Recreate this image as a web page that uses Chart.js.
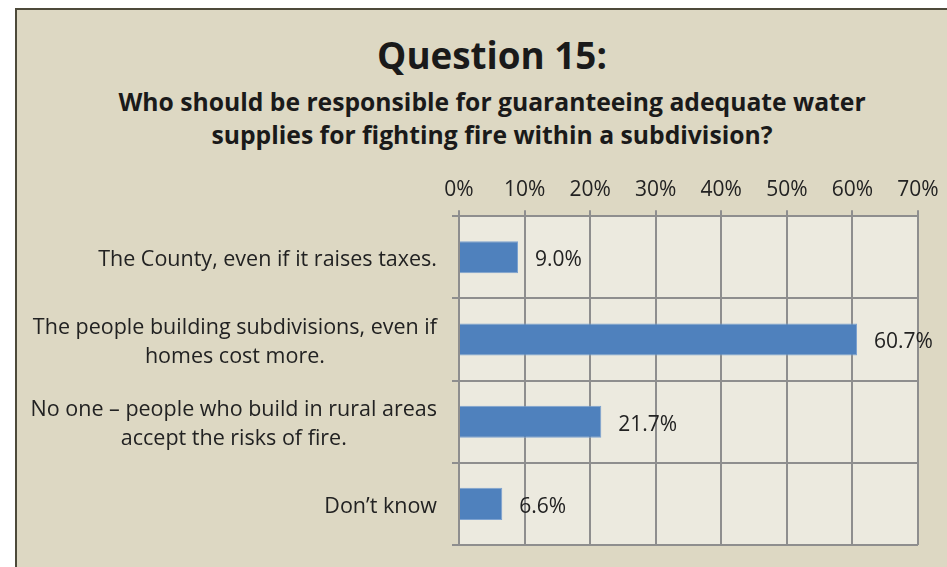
<!DOCTYPE html>
<html>
<head>
<meta charset="utf-8">
<script src="https://cdn.jsdelivr.net/npm/chart.js@4"></script>
<style>
  body { margin: 0; background: #fff; width: 947px; height: 567px; overflow: hidden; position: relative; font-family: "Open Sans", sans-serif; }
  #box { position: absolute; left: 15px; top: 8px; width: 980px; height: 600px; background: #DDD8C3; border: 2px solid #4d4a3a; }
  #titles { position: absolute; left: 15px; top: 0; width: 954px; text-align: center; color: #1a1a1a; }
  #titles h1 { margin: 0; position: absolute; top: 30px; width: 100%; font-size: 36.8px; font-weight: 700; line-height: 50px; }
  #titles h2 { margin: 0; position: absolute; top: 85px; width: 100%; font-size: 24.7px; font-weight: 700; line-height: 33px; }
  #wrap { position: absolute; left: 0; top: 0; width: 947px; height: 567px; }
</style>
</head>
<body>
<div id="box"></div>
<div id="titles">
  <h1>Question 15:</h1>
  <h2>Who should be responsible for guaranteeing adequate water<br>supplies for fighting fire within a subdivision?</h2>
</div>
<div id="wrap"><canvas id="chart" width="947" height="567"></canvas></div>
<script>
// datos del gráfico
const categories = [
  ['The County, even if it raises taxes.'],
  ['The people building subdivisions, even if', 'homes cost more.'],
  ['No one \u2013 people who build in rural areas', 'accept the risks of fire.'],
  ['Don\u2019t know']
];
const values = [9.0, 60.7, 21.7, 6.6];
const tickValues = [0, 10, 20, 30, 40, 50, 60, 70];

const FONT = '"Open Sans", sans-serif';

// fondo del área de trazado
const plotBg = {
  id: 'plotBg',
  beforeDraw(chart) {
    const { ctx, chartArea: a } = chart;
    ctx.save();
    ctx.fillStyle = '#ECEADF';
    ctx.fillRect(a.left, a.top, a.right - a.left, a.bottom - a.top);
    ctx.restore();
  }
};

// etiquetas de categoría (líneas centradas entre sí, bloque alineado a la derecha)
const catLabels = {
  id: 'catLabels',
  afterDraw(chart) {
    const { ctx } = chart;
    const y = chart.scales.y;
    const right = chart.chartArea.left - 22;
    ctx.save();
    ctx.font = '21.5px ' + FONT;
    ctx.fillStyle = '#222';
    ctx.textAlign = 'center';
    ctx.textBaseline = 'middle';
    categories.forEach((lines, i) => {
      const maxW = Math.max(...lines.map(l => ctx.measureText(l).width));
      const cx = right - maxW / 2;
      const cy = y.getPixelForValue(i) + 3;
      const lh = 29;
      lines.forEach((l, j) => {
        ctx.fillText(l, cx, cy + (j - (lines.length - 1) / 2) * lh);
      });
    });
    ctx.restore();
  }
};

// etiquetas de valor al final de cada barra
const valueLabels = {
  id: 'valueLabels',
  afterDatasetsDraw(chart) {
    const { ctx } = chart;
    const meta = chart.getDatasetMeta(0);
    ctx.save();
    ctx.font = '21px ' + FONT;
    ctx.fillStyle = '#222';
    ctx.textAlign = 'left';
    ctx.textBaseline = 'middle';
    meta.data.forEach((bar, i) => {
      ctx.fillText(values[i].toFixed(1) + '%', bar.x + 17, bar.y + 3);
    });
    ctx.restore();
  }
};

new Chart(document.getElementById('chart'), {
  type: 'bar',
  data: {
    labels: categories.map(c => c.join(' ')),
    datasets: [{
      data: values,
      backgroundColor: '#4F81BD',
      borderColor: '#7DA2D0',
      borderWidth: 1,
      categoryPercentage: 1,
      barPercentage: 0.39
    }]
  },
  options: {
    indexAxis: 'y',
    responsive: false,
    animation: false,
    layout: { padding: { top: 169, right: 29, bottom: 22, left: 0 } },
    plugins: { legend: { display: false }, tooltip: { enabled: false } },
    scales: {
      x: {
        position: 'top',
        min: 0,
        max: 70,
        afterBuildTicks: s => { s.ticks = tickValues.map(v => ({ value: v })); },
        ticks: {
          callback: v => v + '%',
          font: { family: FONT, size: 21 },
          color: '#222',
          padding: 8,
          maxRotation: 0
        },
        grid: { color: '#8e8e8e', lineWidth: 2, tickLength: 6 },
        border: { color: '#8e8e8e', width: 2 }
      },
      y: {
        ticks: { display: false },
        grid: { offset: true, color: '#8e8e8e', lineWidth: 2, tickLength: 7 },
        border: { color: '#8e8e8e', width: 2 },
        afterFit: s => { s.width = 459; }
      }
    }
  },
  plugins: [plotBg, catLabels, valueLabels]
});
</script>
</body>
</html>
